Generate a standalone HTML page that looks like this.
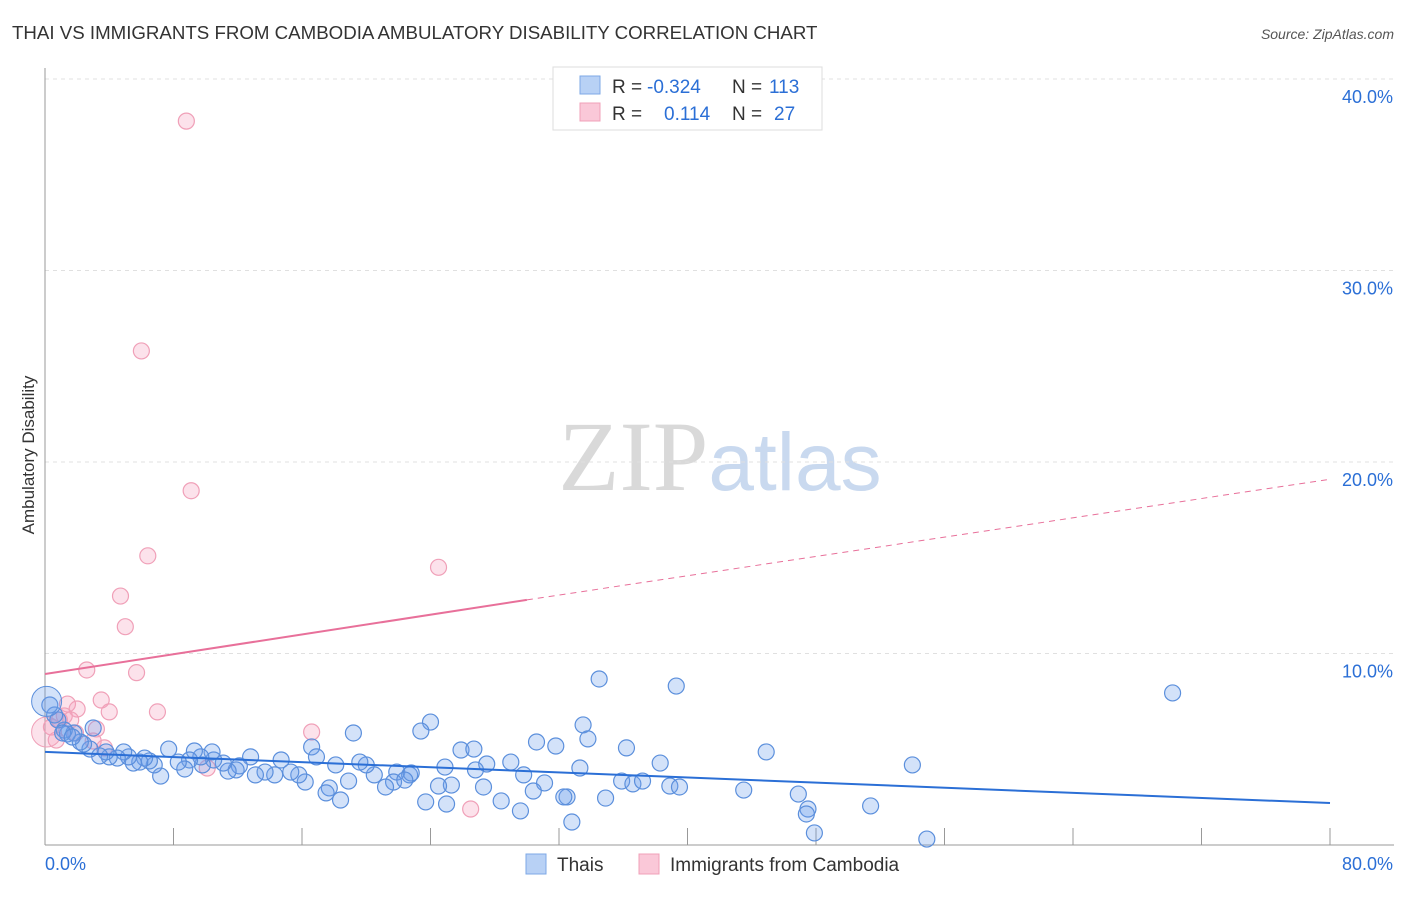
<!DOCTYPE html>
<html><head><meta charset="utf-8"><style>
body{margin:0;background:#fff;font-family:"Liberation Sans",sans-serif;}
svg text{font-family:"Liberation Sans",sans-serif;}
</style></head><body>
<svg id="chart" width="1406" height="892" viewBox="0 0 1406 892">
<text x="12" y="39" font-size="18.7" fill="#333">THAI VS IMMIGRANTS FROM CAMBODIA AMBULATORY DISABILITY CORRELATION CHART</text>
<text x="1394" y="39" font-size="14" fill="#555" text-anchor="end" font-style="italic">Source: ZipAtlas.com</text>
<text x="720" y="490" font-size="100" text-anchor="middle"><tspan font-family="Liberation Serif" fill="#d9d9d9">ZIP</tspan><tspan fill="#c9d9ef" font-size="82">atlas</tspan></text>
<g id="grid"></g>
<g id="axes"></g>
<g id="pts"></g>
<g id="lines"></g>
<text transform="translate(34,455) rotate(-90)" font-size="17" fill="#333" text-anchor="middle">Ambulatory Disability</text>
<g>
<rect x="553" y="67" width="269" height="63" fill="#fff" stroke="#ddd"/>
<rect x="580" y="76" width="20" height="18" fill="#b8d1f5" stroke="#7ea8e6"/>
<rect x="580" y="103" width="20" height="18" fill="#fac8d8" stroke="#f0a0b8"/>
<text x="612" y="93" font-size="19" fill="#333">R =</text>
<text x="647" y="93" font-size="19" fill="#2b6fd6">-0.324</text>
<text x="732" y="93" font-size="19" fill="#333">N =</text>
<text x="769" y="93" font-size="19" fill="#2b6fd6">113</text>
<text x="612" y="120" font-size="19" fill="#333">R =</text>
<text x="664" y="120" font-size="19" fill="#2b6fd6">0.114</text>
<text x="732" y="120" font-size="19" fill="#333">N =</text>
<text x="774" y="120" font-size="19" fill="#2b6fd6">27</text>
</g>
<g>
<rect x="526" y="854" width="20" height="20" fill="#b8d1f5" stroke="#7ea8e6"/>
<text x="557" y="871" font-size="19" fill="#333">Thais</text>
<rect x="639" y="854" width="20" height="20" fill="#fac8d8" stroke="#f0a0b8"/>
<text x="670" y="871" font-size="19" fill="#333">Immigrants from Cambodia</text>
</g>
</svg>
<script>
const yTicks=[10,20,30,40];
const yTickLabels=["10.0%","20.0%","30.0%","40.0%"];
const xEndLabels=["0.0%","80.0%"];
const thaiX=[34.5,39.3,70.2,54.0,44.9,36.2,30.6,31.8,33.5,33.8,24.0,23.4,19.2,16.6,25.9,26.7,29.0,27.5,24.9,26.8,33.3,38.3,35.9,36.6,37.2,38.9,39.5,43.5,46.9,47.5,47.4,47.9,51.4,54.9,31.1,29.8,32.5,32.3,32.8,34.9,30.4,29.6,28.4,27.3,25.3,24.5,23.7,25.0,21.9,22.7,22.8,21.7,22.4,21.2,20.5,20.0,19.6,18.9,18.4,17.7,17.5,18.1,16.9,16.2,15.8,15.3,14.7,14.3,13.7,13.1,12.8,12.1,11.9,11.4,11.1,10.5,10.4,9.8,9.7,9.3,9.0,8.7,8.3,7.7,7.2,6.8,6.5,6.2,5.9,5.5,5.2,4.9,4.5,4.0,3.8,3.4,2.8,2.4,2.2,3.0,1.8,1.4,1.2,0.8,0.6,0.3,1.1,1.7];
const thaiY=[8.67,8.3,7.94,4.18,4.86,5.07,5.38,5.17,6.27,5.54,6.42,5.95,5.85,5.12,4.96,5.01,4.33,4.23,4.07,3.92,4.02,4.28,3.34,3.19,3.34,3.08,3.03,2.87,2.66,1.88,1.62,0.63,2.04,0.31,3.24,3.66,2.51,2.51,1.2,2.45,2.82,1.78,2.3,3.03,3.13,3.08,2.25,2.14,3.81,3.66,3.76,3.29,3.39,3.03,3.66,4.18,4.33,3.34,2.35,2.98,2.72,4.18,4.6,3.29,3.66,3.81,4.44,3.66,3.81,3.66,4.6,4.13,3.92,3.86,4.28,4.44,4.86,4.18,4.6,4.91,4.44,3.97,4.33,5.01,3.6,4.18,4.39,4.54,4.33,4.28,4.6,4.86,4.54,4.6,4.86,4.65,5.01,5.27,5.38,6.11,5.85,5.8,6.0,6.53,6.79,7.31,5.85,5.64];
const cambX=[8.8,6.0,9.1,6.4,24.5,4.7,5.0,5.7,2.6,3.5,1.4,2.0,4.0,7.0,16.6,0.9,1.2,3.2,0.4,3.0,3.7,10.1,26.5,1.9,1.6,0.7];
const cambY=[37.8,25.8,18.5,15.1,14.5,13.0,11.4,9.0,9.14,7.57,7.36,7.1,6.95,6.95,5.9,6.53,6.74,6.06,6.16,5.43,5.07,4.02,1.88,5.85,6.53,5.48];
const thaiTrend=[4.86,2.19];
const cambTrend=[8.93,12.8,19.1];
const cambSolidEnd=30;

const NS="http://www.w3.org/2000/svg";
const X0=45,X1=1330,Y0=845,PY=19.15;
const sx=v=>X0+v/80*(X1-X0);
const sy=v=>Y0-v*PY;
function mk(tag,attrs,parent){const e=document.createElementNS(NS,tag);for(const k in attrs)e.setAttribute(k,attrs[k]);parent.appendChild(e);return e;}
const grid=document.getElementById('grid'),axes=document.getElementById('axes'),pts=document.getElementById('pts'),lines=document.getElementById('lines');
yTicks.forEach((t,i)=>{
 const l=mk('line',{x1:X0,x2:1394,y1:sy(t),y2:sy(t),stroke:'#e0e0e0','stroke-dasharray':'4,4'},grid);
 
 
 const tx=mk('text',{x:1393,y:sy(t)+24,'font-size':18,fill:'#2b6fd6','text-anchor':'end'},axes);
 tx.textContent=yTickLabels[i];
 
 
});
mk('line',{x1:X0,x2:X0,y1:68,y2:Y0,stroke:'#999'},axes);
mk('line',{x1:X0,x2:1394,y1:Y0,y2:Y0,stroke:'#999'},axes);
for(let i=0;i<=10;i++){const l=mk('line',{x1:sx(i*8),x2:sx(i*8),y1:Y0,y2:828,stroke:'#999'},axes);
 
 }
const xl=mk('text',{x:45,y:870,'font-size':18,fill:'#2b6fd6'},axes);xl.textContent=xEndLabels[0];


const xr=mk('text',{x:1393,y:870,'font-size':18,fill:'#2b6fd6','text-anchor':'end'},axes);xr.textContent=xEndLabels[1];


cambX.forEach((x,i)=>{const c=mk('circle',{cx:sx(x),cy:sy(cambY[i]),r:8,fill:'rgba(245,160,190,0.3)',stroke:'#f0a0b8','stroke-width':1.2},pts);
 
 });
const big2=mk('circle',{cx:sx(0.1),cy:sy(5.9),r:15,fill:'rgba(245,160,190,0.3)',stroke:'#f0a0b8'},pts);


thaiX.forEach((x,i)=>{const c=mk('circle',{cx:sx(x),cy:sy(thaiY[i]),r:8,fill:'rgba(110,160,235,0.3)',stroke:'#5b8fdc','stroke-width':1.2},pts);
 
 });
const big=mk('circle',{cx:sx(0.1),cy:sy(7.5),r:15,fill:'rgba(110,160,235,0.3)',stroke:'#5b8fdc'},pts);


const tl=mk('line',{x1:sx(0),y1:sy(thaiTrend[0]),x2:sx(80),y2:sy(thaiTrend[1]),stroke:'#2b6fd6','stroke-width':2},lines);


const cl=mk('line',{x1:sx(0),y1:sy(cambTrend[0]),x2:sx(cambSolidEnd),y2:sy(cambTrend[1]),stroke:'#e8709a','stroke-width':2},lines);


const cd=mk('line',{x1:sx(cambSolidEnd),y1:sy(cambTrend[1]),x2:sx(80),y2:sy(cambTrend[2]),stroke:'#e8709a','stroke-width':1,'stroke-dasharray':'6,5'},lines);


</script>
</body></html>
